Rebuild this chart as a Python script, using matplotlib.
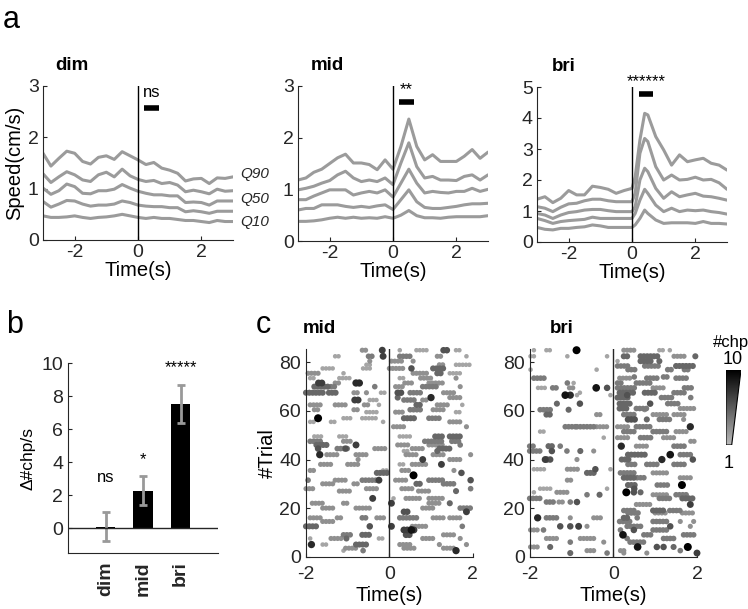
import numpy as np
import matplotlib
matplotlib.use('Agg')
import matplotlib.pyplot as plt
from matplotlib.colors import LinearSegmentedColormap, Normalize
from matplotlib.patches import Polygon

plt.rcParams['font.family'] = ['Liberation Sans', 'DejaVu Sans']
plt.rcParams['axes.unicode_minus'] = False
plt.rcParams['axes.edgecolor'] = '#262626'
plt.rcParams['xtick.color'] = '#262626'
plt.rcParams['ytick.color'] = '#262626'
plt.rcParams['xtick.direction'] = 'in'
plt.rcParams['ytick.direction'] = 'in'

# ---------------- panel a: speed quantiles ----------------
t_dim = [-3, -2.75, -2.5, -2.25, -2, -1.75, -1.5, -1.25, -1, -0.75, -0.5, -0.25, 0,
         0.25, 0.5, 0.75, 1, 1.25, 1.5, 1.75, 2, 2.25, 2.5, 2.75, 3]
dim_q90 = [1.69, 1.44, 1.59, 1.73, 1.69, 1.53, 1.48, 1.61, 1.64, 1.57, 1.72, 1.64, 1.56,
           1.47, 1.51, 1.40, 1.36, 1.30, 1.15, 1.19, 1.20, 1.10, 1.21, 1.20, 1.23]
dim_q70 = [1.29, 1.12, 1.23, 1.33, 1.27, 1.17, 1.14, 1.27, 1.32, 1.23, 1.38, 1.25, 1.18,
           1.14, 1.16, 1.10, 1.12, 1.07, 0.94, 0.97, 0.94, 0.90, 0.99, 0.95, 0.96]
dim_q50 = [1.01, 0.89, 0.96, 1.09, 1.04, 0.91, 0.90, 0.96, 0.96, 0.99, 1.08, 1.01, 0.95,
           0.91, 0.88, 0.88, 0.86, 0.86, 0.73, 0.74, 0.73, 0.68, 0.76, 0.76, 0.76]
dim_q30 = [0.75, 0.64, 0.70, 0.77, 0.76, 0.70, 0.66, 0.68, 0.68, 0.70, 0.76, 0.73, 0.68,
           0.66, 0.65, 0.65, 0.63, 0.63, 0.55, 0.57, 0.55, 0.52, 0.56, 0.56, 0.56]
dim_q10 = [0.47, 0.44, 0.44, 0.45, 0.47, 0.44, 0.42, 0.44, 0.45, 0.47, 0.50, 0.47, 0.44,
           0.42, 0.44, 0.42, 0.42, 0.40, 0.38, 0.38, 0.36, 0.34, 0.38, 0.36, 0.36]

t_mid = t_dim
mid_q90 = [1.18, 1.22, 1.33, 1.39, 1.50, 1.61, 1.68, 1.51, 1.51, 1.48, 1.38, 1.57, 1.39,
           1.83, 2.36, 1.83, 1.57, 1.67, 1.54, 1.54, 1.54, 1.64, 1.77, 1.60, 1.72]
mid_q70 = [0.99, 1.02, 1.06, 1.12, 1.17, 1.28, 1.35, 1.22, 1.15, 1.18, 1.15, 1.22, 1.09,
           1.51, 1.90, 1.44, 1.22, 1.25, 1.18, 1.18, 1.17, 1.25, 1.28, 1.18, 1.28]
mid_q50 = [0.80, 0.80, 0.87, 0.93, 0.99, 0.99, 0.99, 0.89, 0.93, 0.96, 0.93, 0.99, 0.85,
           1.12, 1.39, 1.12, 0.93, 0.96, 0.94, 0.93, 0.96, 0.96, 1.02, 0.96, 1.00]
mid_q30 = [0.60, 0.63, 0.63, 0.70, 0.70, 0.70, 0.67, 0.65, 0.67, 0.65, 0.68, 0.70, 0.61,
           0.80, 0.99, 0.76, 0.65, 0.63, 0.63, 0.65, 0.67, 0.70, 0.72, 0.72, 0.73]
mid_q10 = [0.38, 0.38, 0.39, 0.41, 0.44, 0.46, 0.44, 0.46, 0.44, 0.45, 0.44, 0.47, 0.44,
           0.50, 0.59, 0.49, 0.45, 0.45, 0.44, 0.46, 0.47, 0.47, 0.47, 0.47, 0.49]

t_bri = [-3, -2.75, -2.5, -2.25, -2, -1.75, -1.5, -1.25, -1, -0.75, -0.5, -0.25, 0, 0.1,
         0.25, 0.4, 0.5, 0.75, 1, 1.25, 1.5, 1.75, 2, 2.25, 2.5, 2.75, 3]
bri_q90 = [1.38, 1.46, 1.27, 1.41, 1.66, 1.52, 1.52, 1.80, 1.76, 1.70, 1.57, 1.66, 1.73, 2.10,
           3.29, 4.15, 4.10, 3.40, 2.97, 2.48, 2.81, 2.59, 2.65, 2.70, 2.54, 2.48, 2.32]
bri_q70 = [1.14, 1.09, 0.98, 1.12, 1.23, 1.25, 1.33, 1.38, 1.38, 1.33, 1.30, 1.30, 1.30, 1.57,
           2.86, 3.34, 3.24, 2.43, 2.00, 2.16, 2.00, 2.02, 2.09, 2.00, 2.02, 1.91, 1.70]
bri_q50 = [0.92, 0.87, 0.76, 0.87, 0.95, 0.98, 1.03, 1.05, 1.05, 1.01, 0.98, 0.98, 0.98, 1.14,
           2.00, 2.38, 2.27, 1.73, 1.41, 1.62, 1.46, 1.52, 1.57, 1.48, 1.46, 1.41, 1.35]
bri_q30 = [0.76, 0.69, 0.60, 0.66, 0.69, 0.71, 0.73, 0.80, 0.76, 0.76, 0.76, 0.76, 0.76, 0.92,
           1.35, 1.70, 1.57, 1.19, 0.98, 1.09, 0.98, 1.03, 1.01, 1.03, 0.98, 0.95, 0.90]
bri_q10 = [0.47, 0.41, 0.39, 0.44, 0.44, 0.47, 0.49, 0.55, 0.52, 0.47, 0.47, 0.47, 0.47, 0.55,
           0.76, 1.03, 0.92, 0.71, 0.60, 0.62, 0.62, 0.62, 0.60, 0.66, 0.60, 0.60, 0.58]

speed_titles = ['dim', 'mid', 'bri']
speed_ymax = [3, 3, 5]
sig_labels = ['ns', '**', '******']
sig_bar = [(0.2, 0.65, 2.57), (0.2, 0.65, 2.69), (0.22, 0.66, 4.77)]
sig_text_y = [2.88, 2.93, 5.17]
quantile_labels = ['Q90', 'Q50', 'Q10']

# ---------------- panel b: delta chirp rate ----------------
conds = ['dim', 'mid', 'bri']
delta_chp = [0.1, 2.27, 7.52]
delta_err = [0.9, 0.88, 1.15]
delta_sig = ['ns', '*', '*****']
delta_sig_y = [3.05, 4.15, 9.75]

# ---------------- panel c: chirp rasters (trial, t_start, t_end, #chp) ----------------
raster_mid = [
    (85, -0.65, -0.50, 3), (85, -0.17, -0.17, 7), (85, 0.25, 0.25, 2), (85, 0.65, 0.90, 2), (85, 1.30, 1.40, 6), (85, 1.60, 1.70, 2),
    (82.5, -1.30, -1.20, 2), (82.5, -0.50, -0.40, 4), (82.5, -0.15, -0.15, 7), (82.5, 0.25, 0.55, 4), (82.5, 1.15, 1.30, 3), (82.5, 1.85, 1.85, 2),
    (80.5, -0.47, -0.47, 3), (80.5, 0.05, 0.33, 3), (80.5, 0.57, 0.57, 3),
    (79, -0.55, -0.40, 2), (79, 1.20, 1.35, 3), (79, 1.60, 1.95, 2),
    (77.5, -1.60, -1.35, 2), (77.5, -0.63, -0.40, 2), (77.5, 0.0, 0.33, 3), (77.5, 0.53, 0.53, 6), (77.5, 1.05, 1.30, 5),
    (75.5, -1.95, -1.65, 3), (75.5, -1.10, -1.10, 2), (75.5, 0.57, 0.90, 3), (75.5, 1.15, 1.30, 5), (75.5, 1.45, 1.70, 2),
    (73.5, -1.90, -1.80, 2), (73.5, -1.20, -0.95, 2), (73.5, 0.25, 0.40, 2), (73.5, 0.75, 1.05, 3), (73.5, 1.60, 1.60, 3),
    (71.5, -1.70, -1.60, 7), (71.5, -1.30, -1.20, 3), (71.5, -0.80, -0.70, 8), (71.5, 0.37, 0.57, 3), (71.5, 0.95, 1.30, 3),
    (70, -1.80, -1.45, 5), (70, -1.40, -1.25, 4), (70, -0.35, -0.35, 4), (70, 0.15, 0.35, 3), (70, 0.80, 1.15, 4), (70, 1.70, 1.70, 3),
    (67.5, -2.0, -1.60, 5), (67.5, -1.45, -1.25, 5), (67.5, -0.85, -0.70, 3), (67.5, -0.55, -0.55, 3), (67.5, -0.20, -0.05, 2),
    (67.5, 0.20, 0.35, 6), (67.5, 0.50, 0.80, 4), (67.5, 1.30, 1.55, 3),
    (65.5, 0.20, 0.20, 5), (65.5, 1.00, 1.00, 8), (65.5, 1.45, 1.75, 3),
    (64.5, -0.83, -0.70, 7), (64.5, -0.47, -0.30, 2), (64.5, 0.35, 0.60, 4), (64.5, 0.80, 0.95, 3),
    (62.5, -1.90, -1.60, 3), (62.5, -1.30, -1.00, 3), (62.5, -0.60, -0.45, 3), (62.5, -0.25, -0.20, 2), (62.5, 0.65, 0.80, 5),
    (62.5, 1.15, 1.45, 3), (62.5, 1.75, 1.75, 2),
    (60.5, -1.80, -1.65, 3), (60.5, -0.85, -0.70, 3), (60.5, 0.50, 0.80, 4), (60.5, 1.05, 1.30, 3),
    (59.5, -0.55, -0.25, 2), (59.5, 0.15, 0.35, 3), (59.5, 1.60, 1.75, 2),
    (57, -1.71, -1.71, 10), (57, -1.10, -0.90, 2), (57, -0.65, -0.30, 2), (57, 0.35, 0.65, 5), (57, 0.95, 1.20, 4),
    (55.5, -1.90, -1.75, 2), (55.5, -1.40, -1.25, 2), (55.5, -0.15, -0.15, 2), (55.5, 1.45, 1.75, 3),
    (53.5, 0.10, 0.35, 3), (53.5, 1.85, 1.85, 3),
    (49.5, -1.80, -1.60, 2), (49.5, -1.20, -1.00, 2), (49.5, 0.25, 0.50, 2), (49.5, 1.10, 1.30, 5), (49.5, 1.45, 1.70, 5),
    (47.5, -1.90, -1.60, 4), (47.5, -1.10, -0.90, 3), (47.5, 0.85, 1.30, 4), (47.5, 1.50, 1.70, 4),
    (46, -1.75, -1.45, 5), (46, -0.80, -0.80, 7), (46, 0.20, 0.50, 3), (46, 0.95, 1.30, 3), (46, 1.70, 1.70, 4),
    (44.5, -1.71, -1.71, 6), (44.5, -1.25, -1.00, 4), (44.5, -1.05, -1.05, 6), (44.5, -0.35, -0.05, 3), (44.5, 0.55, 0.80, 3),
    (44.5, 1.20, 1.45, 5),
    (43.5, 1.15, 1.15, 5), (43.5, 0.35, 0.50, 2),
    (42, -1.67, -1.67, 8), (42, -1.50, -1.25, 3), (42, -0.80, -0.55, 3), (42, 0.40, 0.65, 3), (42, 1.05, 1.30, 3), (42, 1.95, 1.95, 3),
    (40, -0.75, -0.75, 3), (40, 0.80, 0.80, 7), (40, 1.45, 1.70, 3),
    (38, -1.65, -1.40, 3), (38, -1.00, -0.75, 3), (38, 0.25, 0.40, 2), (38, 0.55, 0.90, 3), (38, 1.25, 1.25, 7),
    (35.5, -1.90, -1.75, 3), (35.5, -0.15, 0.0, 2), (35.5, 0.30, 0.50, 3), (35.5, 1.55, 1.55, 3),
    (34.5, 1.73, 1.73, 6), (34.5, -0.30, -0.05, 5),
    (33.5, 0.58, 0.58, 10),
    (31.5, -1.95, -1.95, 4), (31.5, -1.30, -1.05, 3), (31.5, -0.65, -0.30, 4), (31.5, -0.25, -0.25, 7), (31.5, 0.15, 0.45, 3),
    (31.5, 0.95, 1.30, 4), (31.5, 1.95, 1.95, 6),
    (30, -1.60, -1.35, 3), (30, -0.85, -0.70, 3), (30, 0.65, 0.80, 5), (30, 1.30, 1.55, 4),
    (28, -2.0, -1.80, 3), (28, -0.55, -0.30, 3), (28, 0.30, 0.55, 3), (28, 1.95, 1.95, 4),
    (27, -1.20, -0.95, 3), (27, 0.70, 0.95, 3), (27, 1.60, 1.60, 5),
    (24, -0.40, -0.40, 7), (24, 0.10, 0.10, 2), (24, 0.40, 0.75, 3), (24, 0.95, 1.30, 3),
    (22, -1.85, -1.60, 3), (22, -1.10, -0.95, 3), (22, 0.05, 0.05, 7), (22, 0.95, 1.20, 3), (22, 1.45, 1.45, 5),
    (20, -1.60, -1.35, 3), (20, -0.80, -0.47, 3), (20, 0.80, 1.10, 3), (20, 1.70, 1.95, 4),
    (18.5, 0.35, 0.50, 6), (18.5, 1.85, 1.85, 7),
    (16, -1.90, -1.60, 3), (16, -1.25, -1.10, 3), (16, -0.65, -0.50, 4), (16, -0.30, -0.10, 3), (16, 0.25, 0.65, 4),
    (16, 1.05, 1.30, 3), (16, 1.45, 1.70, 3),
    (14.5, -1.60, -1.35, 3),
    (12.5, -2.0, -1.75, 5), (12.5, -0.47, -0.47, 6), (12.5, 0.05, 0.05, 7), (12.5, 0.55, 0.90, 3), (12.5, 1.75, 1.75, 4),
    (11, 0.35, 0.65, 7), (11, 0.53, 0.53, 9),
    (9, -1.10, -0.90, 4), (9, -0.65, -0.45, 5), (9, 0.40, 0.55, 6), (9, 1.30, 1.55, 3),
    (7.5, -1.90, -1.90, 2), (7.5, -1.40, -1.15, 3), (7.5, -1.03, -1.03, 5), (7.5, -0.25, -0.10, 2), (7.5, 0.80, 1.05, 3),
    (7.5, 1.70, 1.70, 3),
    (5, -1.87, -1.87, 8), (5, -1.60, -1.45, 2), (5, -0.80, -0.55, 5), (5, 0.25, 0.50, 3), (5, 1.20, 1.20, 3), (5, 1.85, 1.85, 3),
    (3.5, -1.05, -0.80, 3), (3.5, 0.35, 0.65, 3), (3.5, 1.30, 1.55, 3),
    (2.5, 1.60, 1.60, 8), (2.5, -0.63, -0.63, 4), (2.5, -1.10, -1.10, 2),
]

raster_bri = [
    (85, -1.90, -1.90, 2), (85, -1.60, -1.50, 2), (85, -0.88, -0.88, 10), (85, 0.25, 0.50, 3), (85, 1.10, 1.20, 2), (85, 1.35, 1.35, 2),
    (82.5, -1.98, -1.85, 2), (82.5, -1.10, -1.10, 2), (82.5, -0.15, -0.15, 2), (82.5, 0.25, 0.40, 5), (82.5, 0.65, 1.10, 5),
    (82.5, 1.45, 1.70, 3), (82.5, 1.96, 1.96, 5),
    (80.5, 0.65, 0.95, 5), (80.5, 1.10, 1.10, 5), (80.5, 0.10, 0.10, 2),
    (78.5, 0.10, 0.35, 4), (78.5, 0.75, 1.10, 4), (78.5, 1.50, 1.90, 5),
    (77, -1.98, -1.98, 2), (77, -0.40, -0.40, 2), (77, 0.35, 0.55, 4), (77, 1.30, 1.45, 4), (77, 1.70, 1.85, 4),
    (74, 1.20, 1.35, 4), (74, 0.50, 0.50, 4),
    (73.5, -1.90, -1.65, 4), (73.5, 0.15, 0.40, 3), (73.5, 0.80, 1.10, 4), (73.5, 1.50, 1.75, 4),
    (71.5, -1.10, -1.10, 4), (71.5, -0.95, -0.95, 2), (71.5, 0.10, 0.25, 4), (71.5, 0.55, 0.90, 4),
    (69.5, -1.80, -1.60, 2), (69.5, -1.45, -1.30, 4), (69.5, -1.05, -0.90, 3), (69.5, -0.41, -0.41, 9), (69.5, -0.15, -0.15, 6),
    (69.5, 0.10, 0.55, 4), (69.5, 0.95, 1.25, 3), (69.5, 1.70, 1.90, 4),
    (67.5, 0.15, 0.50, 5), (67.5, 0.75, 1.00, 5), (67.5, 1.45, 1.70, 4), (67.5, -0.80, -0.80, 2),
    (66.5, -1.15, -1.15, 9), (66.5, -1.03, -1.03, 8), (66.5, -0.87, -0.87, 2), (66.5, -0.07, -0.07, 2), (66.5, 0.33, 0.33, 6),
    (65.5, 0.10, 0.35, 5), (65.5, 1.15, 1.40, 4), (65.5, 1.85, 1.85, 4),
    (63, -1.35, -1.35, 5), (63, -0.80, -0.80, 6), (63, 0.15, 0.40, 5), (63, 0.88, 0.88, 6), (63, 1.30, 1.60, 4),
    (61, 0.15, 0.35, 5), (61, 0.55, 0.80, 4), (61, 1.60, 1.95, 3),
    (60.5, -1.75, -1.50, 4), (60.5, -1.07, -1.07, 5), (60.5, 0.75, 0.75, 3),
    (58.5, -1.60, -1.45, 5), (58.5, -0.40, -0.25, 3), (58.5, 0.25, 0.50, 4), (58.5, 0.95, 1.30, 3), (58.5, 1.45, 1.75, 3),
    (56.5, 0.35, 0.55, 6), (56.5, 0.80, 0.80, 5), (56.5, 1.10, 1.40, 4), (56.5, 1.68, 1.68, 3),
    (53.5, -1.15, -0.90, 4), (53.5, -0.87, -0.47, 4), (53.5, -0.40, -0.15, 3), (53.5, 0.10, 0.35, 3), (53.5, 0.55, 0.90, 4),
    (53.5, 1.84, 1.84, 8),
    (51.5, -1.75, -1.67, 2), (51.5, 0.25, 0.50, 4), (51.5, 0.95, 1.30, 4), (51.5, 1.50, 1.75, 3),
    (49, -0.23, -0.23, 2), (49, 0.10, 0.35, 3), (49, 0.65, 0.90, 4), (49, 1.20, 1.45, 3),
    (47.5, 1.85, 2.0, 3),
    (45.5, -2.0, -1.90, 4), (45.5, -1.55, -1.40, 5), (45.5, -1.27, -1.27, 4), (45.5, 0.19, 0.19, 8), (45.5, 0.55, 0.80, 3),
    (45.5, 1.45, 1.75, 4),
    (43.5, -2.0, -1.75, 4), (43.5, -1.47, -1.47, 6), (43.5, -1.11, -1.11, 4), (43.5, -0.79, -0.79, 5), (43.5, -0.47, -0.40, 3),
    (42, 0.35, 0.75, 5), (42, 1.36, 1.36, 9), (42, 1.60, 1.84, 4),
    (40, -1.63, -1.63, 7), (40, -1.59, -1.47, 6), (40, -0.87, -0.87, 3), (40, 0.20, 0.40, 5), (40, 1.16, 1.16, 8), (40, 1.90, 1.90, 6),
    (38, 0.35, 0.55, 4), (38, 0.80, 1.05, 4), (38, 1.45, 1.75, 4),
    (36, -1.90, -1.60, 2), (36, -1.10, -0.80, 3), (36, -0.43, -0.43, 6), (36, -0.07, -0.07, 2),
    (34.5, -0.63, -0.47, 5), (34.5, 0.17, 0.50, 4), (34.5, 0.95, 1.30, 3),
    (32.5, 0.25, 0.50, 5), (32.5, 0.57, 0.80, 4), (32.5, 1.60, 1.90, 3),
    (31.5, -1.10, -0.95, 3),
    (29.5, 1.64, 1.64, 10), (29.5, 1.05, 1.30, 4), (29.5, 0.35, 0.55, 5),
    (28, -1.75, -1.45, 2), (28, -0.15, -0.15, 2), (28, 0.50, 0.50, 6),
    (26.5, 0.31, 0.31, 10), (26.5, 0.49, 0.49, 6), (26.5, 0.65, 0.65, 5), (26.5, -1.90, -1.90, 2), (26.5, -1.35, -1.05, 3),
    (25.5, -0.63, -0.63, 4), (25.5, -0.33, -0.33, 5), (25.5, 0.95, 1.30, 3), (25.5, 1.50, 1.75, 4),
    (24, -2.0, -1.75, 4), (24, 1.10, 1.40, 4), (24, 1.65, 1.90, 5),
    (22.5, -1.60, -1.40, 4), (22.5, -1.30, -1.15, 3), (22.5, -1.03, -1.03, 4), (22.5, -0.87, -0.87, 6),
    (21.5, 1.84, 1.84, 7), (21.5, 0.55, 0.90, 3),
    (19, 0.25, 0.50, 4), (19, 0.95, 1.20, 5), (19, 1.35, 1.60, 4),
    (18, 0.35, 0.65, 4), (18, 1.00, 1.25, 3), (18, 1.65, 1.90, 3),
    (16, -1.81, -1.81, 8), (16, -1.60, -1.35, 4), (16, -1.03, -1.03, 3), (16, -0.47, -0.31, 3), (16, 0.25, 0.40, 5), (16, 0.57, 0.57, 4),
    (14.5, 0.15, 0.40, 4), (14.5, 0.95, 1.30, 4), (14.5, 1.60, 1.60, 3), (14.5, 1.92, 1.92, 3),
    (12.5, -1.27, -1.27, 6), (12.5, -1.03, -1.03, 6), (12.5, -0.83, -0.83, 7), (12.5, -0.63, -0.63, 3), (12.5, 0.33, 0.65, 4),
    (12.5, 1.36, 1.36, 6), (12.5, 1.84, 1.84, 3),
    (11, -1.98, -1.75, 3), (11, -1.67, -1.67, 4), (11, 0.17, 0.17, 4), (11, 0.49, 0.49, 6), (11, 0.95, 1.30, 4),
    (9, 0.23, 0.23, 9), (9, 0.73, 0.95, 4), (9, 1.68, 1.92, 4),
    (7.5, -1.60, -1.30, 3), (7.5, -0.79, -0.47, 3), (7.5, 0.33, 0.33, 4), (7.5, 1.20, 1.45, 4),
    (6, -1.03, -1.03, 4), (6, -0.23, -0.23, 3), (6, 0.40, 0.75, 4),
    (4, -1.98, -1.75, 3), (4, -1.51, -1.51, 5), (4, 0.58, 0.58, 9), (4, 1.04, 1.04, 6), (4, 1.20, 1.20, 6), (4, 1.44, 1.44, 5),
    (4, 1.78, 1.78, 10),
    (2.5, -0.63, -0.40, 3), (2.5, 0.17, 0.30, 3), (2.5, 1.60, 1.60, 4),
    (1.5, -1.03, -1.03, 5), (1.5, -0.15, -0.15, 4), (1.5, 0.25, 0.25, 3), (1.5, 0.80, 0.80, 3), (1.5, 2.0, 2.0, 7),
]
raster_titles = ['mid', 'bri']

# ---------------- figure ----------------
fig = plt.figure(figsize=(7.48, 6.09), dpi=100)
W, H = 748.0, 609.0


def px_axes(l, t, r, b):
    return fig.add_axes([l / W, 1 - b / H, (r - l) / W, (b - t) / H])


line_grey = '#9b9b9b'
speed_axes = [px_axes(43, 86, 233, 240), px_axes(298, 86, 488, 241), px_axes(537, 87, 727, 242)]
speed_sets = [
    (t_dim, [dim_q90, dim_q70, dim_q50, dim_q30, dim_q10]),
    (t_mid, [mid_q90, mid_q70, mid_q50, mid_q30, mid_q10]),
    (t_bri, [bri_q90, bri_q70, bri_q50, bri_q30, bri_q10]),
]
for i, ax in enumerate(speed_axes):
    t, curves = speed_sets[i]
    for c in curves:
        ax.plot(t, c, color=line_grey, lw=2.2, solid_capstyle='round')
    ax.axvline(0, color='black', lw=1)
    ax.set_xlim(-3, 3)
    ax.set_ylim(0, speed_ymax[i])
    ax.set_xticks([-2, 0, 2])
    ax.set_yticks(range(0, speed_ymax[i] + 1))
    for s in ['top', 'right']:
        ax.spines[s].set_visible(False)
    ax.tick_params(labelsize=14, length=3, pad=3)
    ax.set_xlabel('Time(s)', fontsize=14.5, labelpad=0)
    x0, x1, yb = sig_bar[i]
    ax.plot([x0, x1], [yb, yb], color='black', lw=4, solid_capstyle='butt', clip_on=False)
    ax.text((x0 + x1) / 2, sig_text_y[i], sig_labels[i], ha='center', va='center',
            fontsize=12, clip_on=False)
    ax.text(0.065 if i < 2 else 0.08, 1.08, speed_titles[i], transform=ax.transAxes,
            fontsize=13.5, fontweight='bold', ha='left', va='bottom')
speed_axes[0].set_ylabel('Speed(cm/s)', fontsize=14.5, labelpad=3)

for lab, yy in zip(quantile_labels, [174, 199, 222]):
    fig.text(240 / W, 1 - yy / H, lab, fontsize=11, style='italic', ha='left', va='center', color='#262626')

# panel b
axb = px_axes(68, 363, 218, 553)
xb = np.arange(1, len(conds) + 1)
axb.bar(xb, delta_chp, width=0.52, color='black')
axb.errorbar(xb, delta_chp, yerr=delta_err, fmt='none', ecolor='#999999', elinewidth=2, capsize=3, capthick=2)
axb.axhline(0, color='#262626', lw=1)
axb.set_xlim(0, 4)
axb.set_ylim(-1.5, 10)
axb.set_yticks([0, 2, 4, 6, 8, 10])
axb.set_xticks(xb)
axb.set_xticklabels(conds, rotation=90, fontweight='bold', fontsize=14)
axb.tick_params(axis='x', length=0, pad=6)
axb.tick_params(axis='y', labelsize=14, length=3)
for s in ['top', 'right']:
    axb.spines[s].set_visible(False)
axb.set_ylabel('\u0394#chp/s', fontsize=12.5, labelpad=4)
for x, lab, yy in zip(xb, delta_sig, delta_sig_y):
    axb.text(x, yy, lab, ha='center', va='center', fontsize=12)

# panel c
cmap = LinearSegmentedColormap.from_list('chp', ['#b9b9b9', '#000000'])
norm = Normalize(1, 10)
raster_axes = [px_axes(306, 349, 472.7, 556.7), px_axes(529.7, 349, 697, 556.7)]
for i, (ax, runs) in enumerate(zip(raster_axes, [raster_mid, raster_bri])):
    xs, ys, cs = [], [], []
    for trial, t0, t1, n in runs:
        tt = np.arange(t0, t1 + 1e-6, 0.08)
        xs.extend(tt)
        ys.extend([trial] * len(tt))
        cs.extend([n] * len(tt))
    cs = np.array(cs, dtype=float)
    order = np.argsort(cs)
    ax.scatter(np.array(xs)[order], np.array(ys)[order], c=cs[order], cmap=cmap, norm=norm,
               s=8 + 2.8 * (cs[order] - 1), linewidths=0, zorder=2, clip_on=False)
    ax.axvline(0, color='#262626', lw=1, zorder=3)
    ax.set_xlim(-2, 2)
    ax.set_ylim(0, 85.5)
    ax.set_xticks([-2, 0, 2])
    ax.set_yticks([0, 20, 40, 60, 80])
    for s in ['top', 'right']:
        ax.spines[s].set_visible(False)
    ax.tick_params(labelsize=14, length=3)
    ax.tick_params(axis='x', pad=7)
    ax.set_xlabel('Time(s)', fontsize=14.5, labelpad=2)
    ax.text(-0.02 if i == 0 else 0.12, 1.06, raster_titles[i], transform=ax.transAxes,
            fontsize=13.5, fontweight='bold', ha='left', va='bottom')
raster_axes[0].set_ylabel('#Trial', fontsize=14.5, labelpad=2)

# wedge colorbar
axw = px_axes(726, 370, 741, 445)
grad = np.linspace(0, 1, 256).reshape(-1, 1)
axw.imshow(grad, cmap=cmap, aspect='auto', extent=[0, 1, 0, 1], origin='lower',
           norm=Normalize(0, 1))
wedge = Polygon([(0, 0), (0.38, 0), (1, 1), (0, 1)], closed=True, transform=axw.transData,
                facecolor='none', edgecolor='black', lw=0.8)
axw.add_patch(wedge)
for artist in axw.images:
    artist.set_clip_path(wedge)
axw.set_xlim(0, 1)
axw.set_ylim(0, 1)
axw.axis('off')
fig.text(731 / W, 1 - 342 / H, '#chp', fontsize=12, ha='center', va='center')
fig.text(733 / W, 1 - 359 / H, '10', fontsize=13, ha='center', va='center')
fig.text(729 / W, 1 - 463 / H, '1', fontsize=13, ha='center', va='center')

# panel letters
fig.text(11 / W, 1 - 28 / H, 'a', fontsize=22, ha='center', va='baseline')
fig.text(15 / W, 1 - 333 / H, 'b', fontsize=22, ha='center', va='baseline')
fig.text(263 / W, 1 - 333 / H, 'c', fontsize=22, ha='center', va='baseline')

fig.savefig('out.png', dpi=100)
